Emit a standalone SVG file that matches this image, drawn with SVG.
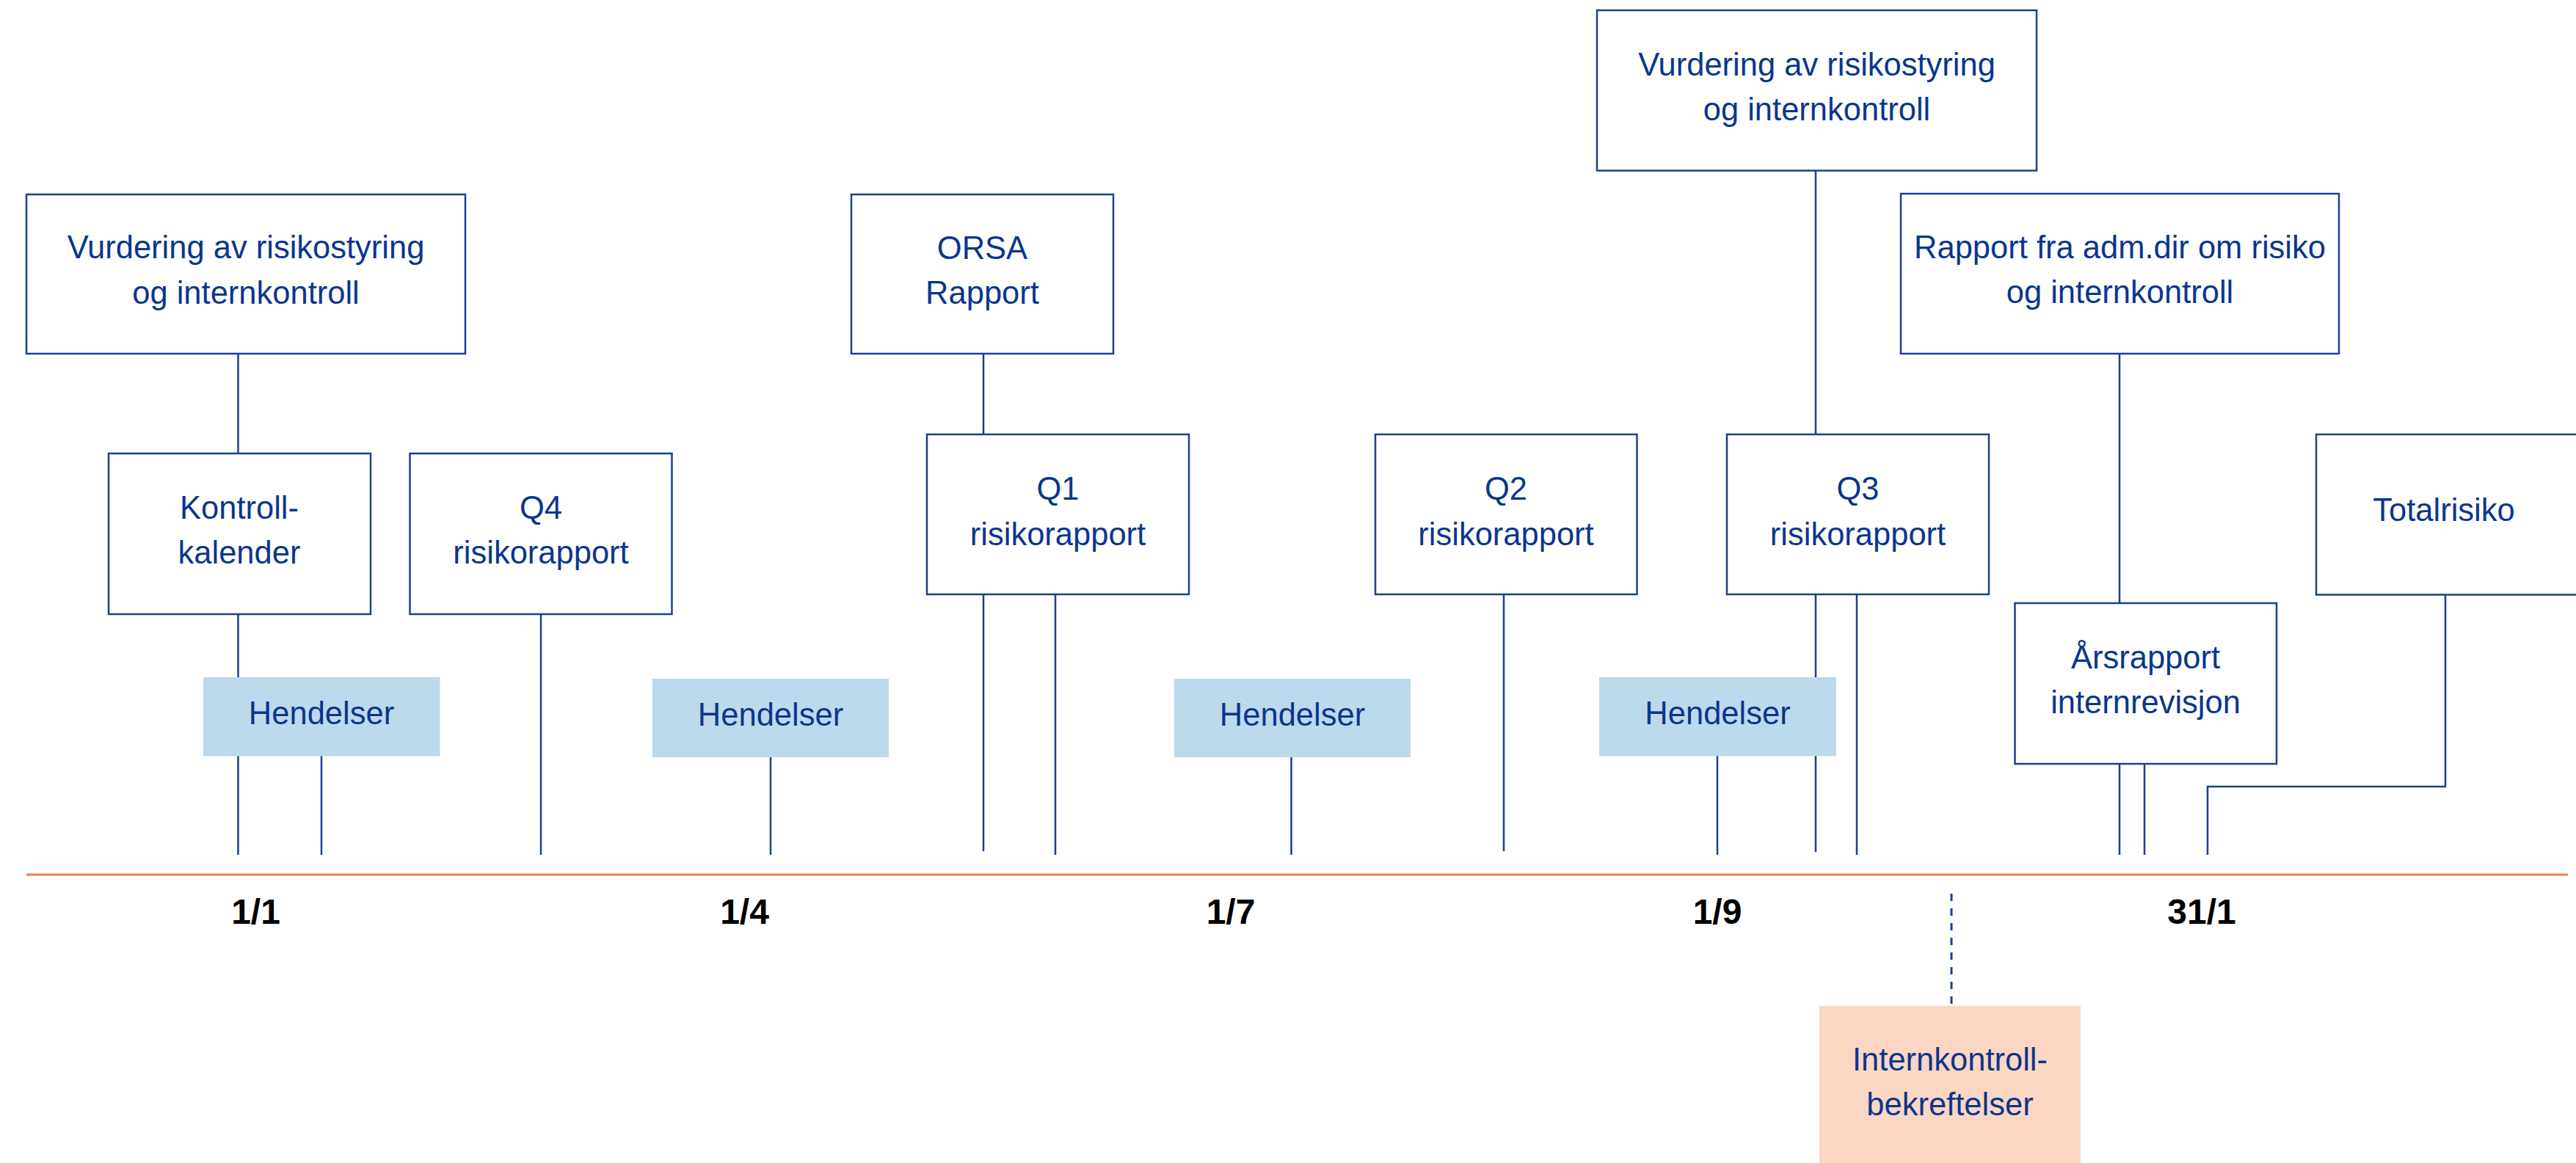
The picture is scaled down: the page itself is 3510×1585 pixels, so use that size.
<svg xmlns="http://www.w3.org/2000/svg" width="3510" height="1585" viewBox="0 0 3510 1585">
<style>
.box{fill:#ffffff;stroke:#1B3F92;stroke-width:2.5}
.ev{fill:#BDD9EC}
.pk{fill:#FAD6C3}
.t{font-family:"Liberation Sans",Arial,Helvetica,sans-serif;font-size:43.5px;fill:#0A368C;text-anchor:middle}
.d{font-family:"Liberation Sans",Arial,Helvetica,sans-serif;font-size:48px;font-weight:bold;fill:#000000;text-anchor:middle}
.c{fill:none;stroke:#1B3F92;stroke-width:2.5}
.dash{fill:none;stroke:#1B3F92;stroke-width:3;stroke-dasharray:10 10}
</style>
<rect width="3510" height="1585" fill="#ffffff"/>
<g id="connectors">
<line class="c" x1="324.5" y1="482" x2="324.5" y2="618"/>
<line class="c" x1="324.5" y1="837" x2="324.5" y2="1165"/>
<line class="c" x1="438" y1="1030" x2="438" y2="1165"/>
<line class="c" x1="737" y1="837" x2="737" y2="1165"/>
<line class="c" x1="1050" y1="1032" x2="1050" y2="1165"/>
<line class="c" x1="1340" y1="482" x2="1340" y2="592"/>
<line class="c" x1="1340" y1="810" x2="1340" y2="1160"/>
<line class="c" x1="1438" y1="810" x2="1438" y2="1165"/>
<line class="c" x1="1759.5" y1="1032" x2="1759.5" y2="1165"/>
<line class="c" x1="2049" y1="810" x2="2049" y2="1160"/>
<line class="c" x1="2340" y1="1030" x2="2340" y2="1165"/>
<line class="c" x1="2474" y1="232" x2="2474" y2="592"/>
<line class="c" x1="2474" y1="810" x2="2474" y2="1161"/>
<line class="c" x1="2530" y1="810" x2="2530" y2="1165"/>
<line class="c" x1="2888" y1="482" x2="2888" y2="822"/>
<line class="c" x1="2888" y1="1041" x2="2888" y2="1165"/>
<line class="c" x1="2922" y1="1041" x2="2922" y2="1165"/>
<polyline class="c" points="3332,810 3332,1072 3008,1072 3008,1165"/>
<line class="dash" x1="2659" y1="1218" x2="2659" y2="1371"/>
</g>
<g id="timeline">
<line x1="36" y1="1192" x2="3499" y2="1192" stroke="#EE7F4B" stroke-width="3"/>
<text class="d" x="348.5" y="1259">1/1</text>
<text class="d" x="1014.5" y="1259">1/4</text>
<text class="d" x="1677" y="1259">1/7</text>
<text class="d" x="2340" y="1259">1/9</text>
<text class="d" x="3000" y="1259">31/1</text>
</g>
<g id="vurdering1">
<rect class="box" x="36" y="265" width="598" height="217"/>
<text class="t" x="335" y="352">Vurdering av risikostyring</text>
<text class="t" x="335" y="414">og internkontroll</text>
</g>
<g id="kontrollkalender">
<rect class="box" x="148" y="618" width="357" height="219"/>
<text class="t" x="326" y="707">Kontroll-</text>
<text class="t" x="326" y="768">kalender</text>
</g>
<g id="q4">
<rect class="box" x="558.5" y="618" width="357" height="219"/>
<text class="t" x="737" y="707">Q4</text>
<text class="t" x="737" y="768">risikorapport</text>
</g>
<g id="orsa">
<rect class="box" x="1160" y="265" width="357" height="217"/>
<text class="t" x="1338.5" y="353">ORSA</text>
<text class="t" x="1338.5" y="414">Rapport</text>
</g>
<g id="q1">
<rect class="box" x="1263" y="592" width="357" height="218"/>
<text class="t" x="1441.5" y="681">Q1</text>
<text class="t" x="1441.5" y="743">risikorapport</text>
</g>
<g id="q2">
<rect class="box" x="1874" y="592" width="356.5" height="218"/>
<text class="t" x="2052" y="681">Q2</text>
<text class="t" x="2052" y="743">risikorapport</text>
</g>
<g id="q3">
<rect class="box" x="2353" y="592" width="357" height="218"/>
<text class="t" x="2531.5" y="681">Q3</text>
<text class="t" x="2531.5" y="743">risikorapport</text>
</g>
<g id="vurdering2">
<rect class="box" x="2176" y="14" width="599" height="218.5"/>
<text class="t" x="2475.5" y="103">Vurdering av risikostyring</text>
<text class="t" x="2475.5" y="164">og internkontroll</text>
</g>
<g id="rapport-admdir">
<rect class="box" x="2590" y="264" width="597" height="218"/>
<text class="t" x="2888.5" y="352">Rapport fra adm.dir om risiko</text>
<text class="t" x="2888.5" y="413">og internkontroll</text>
</g>
<g id="arsrapport">
<rect class="box" x="2745.5" y="822" width="356.5" height="219"/>
<text class="t" x="2923.5" y="911">Årsrapport</text>
<text class="t" x="2923.5" y="972">internrevisjon</text>
</g>
<g id="totalrisiko">
<rect class="box" x="3156" y="592" width="370" height="218.5"/>
<text class="t" x="3330" y="710">Totalrisiko</text>
</g>
<g id="hendelser1">
<rect class="ev" x="277" y="923" width="322.5" height="107.5"/>
<text class="t" x="438" y="987">Hendelser</text>
</g>
<g id="hendelser2">
<rect class="ev" x="889" y="925" width="322" height="107"/>
<text class="t" x="1050" y="989">Hendelser</text>
</g>
<g id="hendelser3">
<rect class="ev" x="1600" y="925" width="322" height="107"/>
<text class="t" x="1761" y="989">Hendelser</text>
</g>
<g id="hendelser4">
<rect class="ev" x="2179" y="923" width="323" height="107.5"/>
<text class="t" x="2340.5" y="987">Hendelser</text>
</g>
<g id="internkontrollbekreftelser">
<rect class="pk" x="2479" y="1371" width="356" height="220"/>
<text class="t" x="2657" y="1459">Internkontroll-</text>
<text class="t" x="2657" y="1520">bekreftelser</text>
</g>
</svg>
